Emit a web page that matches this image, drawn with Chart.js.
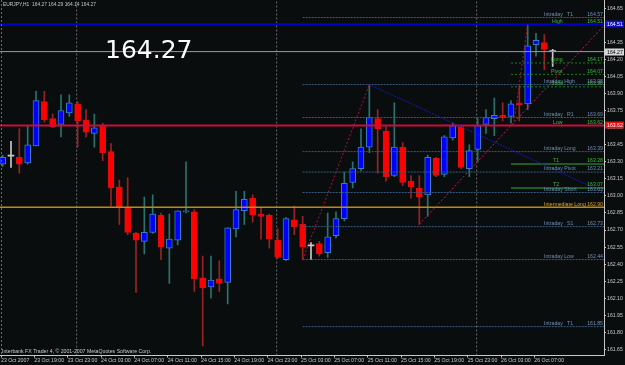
<!DOCTYPE html>
<html>
<head>
<meta charset="utf-8">
<script src="https://cdn.jsdelivr.net/npm/chart.js@4.4.0/dist/chart.umd.min.js"></script>
<style>
  html, body { margin: 0; padding: 0; background: #0a0d0e; }
  #wrap { width: 625px; height: 365px; position: relative; }
</style>
</head>
<body>
<div id="wrap"><canvas id="candles"></canvas></div>
<script>
// EURJPY H1, 23 Oct 2007 15:00 -> 26 Oct 2007 09:00 (one entry per hour)
const opens  = [163.28,163.35,163.34,163.29,163.44,163.83,163.68,163.63,163.73,163.81,163.67,163.55,163.62,163.39,163.08,162.89,162.67,
                162.60,162.68,162.83,162.54,162.61,162.86,162.86,162.28,162.20,162.27,162.24,162.71,162.87,162.98,162.84,162.83,162.61,
                162.44,162.79,162.75,162.56,162.58,162.50,162.65,162.80,163.12,163.24,163.43,163.68,163.57,163.18,163.43,163.13,163.07,
                163.01,163.33,163.19,163.51,163.61,163.24,163.41,163.63,163.68,163.71,163.70,163.82,163.81,164.33,164.35,164.27];
const highs  = [163.36,163.48,163.59,163.62,163.92,163.92,163.72,163.89,163.89,163.83,163.76,163.72,163.64,163.46,163.14,163.16,162.68,
                162.99,163.01,162.85,162.84,162.87,163.30,162.88,162.47,162.47,162.43,162.72,163.04,163.04,163.01,162.89,162.84,162.71,
                162.81,162.91,162.82,162.59,162.60,162.85,162.86,163.21,163.30,163.59,163.98,163.76,163.62,163.82,163.47,163.18,163.18,
                163.36,163.34,163.53,163.64,163.62,163.45,163.68,163.76,163.86,163.82,163.84,163.97,164.51,164.43,164.42,164.29];
const lows   = [163.26,163.25,163.20,163.28,163.44,163.65,163.60,163.52,163.70,163.43,163.52,163.43,163.31,162.91,162.75,162.66,162.15,
                162.49,162.67,162.44,162.23,162.57,162.85,162.16,161.68,162.10,162.16,162.05,162.64,162.75,162.77,162.62,162.54,162.45,
                162.43,162.66,162.44,162.44,162.47,162.46,162.63,162.78,163.07,163.22,163.38,163.20,163.13,163.17,163.09,162.98,162.75,
                162.82,163.17,163.17,163.49,163.24,163.17,163.30,163.55,163.53,163.66,163.64,163.66,163.76,164.23,164.11,164.14];
const closes = [163.34,163.35,163.28,163.45,163.84,163.67,163.61,163.75,163.82,163.66,163.56,163.60,163.38,163.07,162.90,162.68,162.61,
                162.68,162.84,162.55,162.62,162.87,162.87,162.27,162.19,162.26,162.23,162.72,162.88,162.97,162.83,162.82,162.62,162.46,
                162.80,162.73,162.55,162.56,162.49,162.64,162.80,163.11,163.24,163.43,163.69,163.59,163.17,163.43,163.12,163.08,162.99,
                163.34,163.18,163.52,163.62,163.25,163.40,163.62,163.69,163.71,163.69,163.81,163.80,164.32,164.37,164.29,164.27];

// time axis labels, one every 4 bars
const timeLabels = ['23 Oct 2007','23 Oct 19:00','23 Oct 23:00','24 Oct 03:00','24 Oct 07:00','24 Oct 11:00',
                    '24 Oct 15:00','24 Oct 19:00','24 Oct 23:00','25 Oct 03:00','25 Oct 07:00','25 Oct 11:00',
                    '25 Oct 15:00','25 Oct 19:00','25 Oct 23:00','26 Oct 03:00','26 Oct 07:00'];
const priceTicks = [164.65,164.50,164.35,164.20,164.05,163.90,163.75,163.60,163.45,163.30,163.15,163.00,
                    162.85,162.70,162.55,162.40,162.25,162.10,161.95,161.80,161.65];

// pivot / target levels drawn by the indicator
const levelNames  = ['Intraday   T1','High','Long','Pivot','Intraday High','Short','Intraday   R1','Low',
                     'Intraday Long','T1','Intraday Pivot','T2','Intraday Short','Intermediate Long',
                     'Intraday   S1','Intraday Low','Intraday   T1'];
const levelValues = [164.57,164.51,164.17,164.07,163.98,163.96,163.69,163.62,163.39,163.28,163.21,163.07,163.03,
                     162.90,162.73,162.44,161.85];
const levelKinds  = ['intraday','high','daily','daily','intraday','daily','intraday','low','intraday','target',
                     'intraday','target','intraday','intermediate','intraday','intraday','intraday'];
const intradayStart = 36;   // bar where the intraday levels begin
const dailyStart = 61;      // bar where the daily levels begin

// hand drawn trend lines [bar, price]
const trendStart = [[36, 162.44], [44, 163.98], [50, 162.75], [61.3, 163.62]];
const trendEnd   = [[44, 163.98], [72.16, 163.03], [72.16, 164.50], [63, 164.51]];
const trendKinds = ['red', 'blue', 'crimson', 'red'];

const daySeparators = [8.88, 32.88, 56.88];
const axisMarks = [164.51, 164.27, 163.62];

const xMin = -0.32, xMax = 72.16;
const yMin = 161.596, yMax = 164.724;

const axisCol = '#c8c8c8';
const smallFont = "5.2px 'Liberation Sans',Arial,sans-serif";
Chart.defaults.font.family = "'Liberation Sans',Arial,sans-serif";
Chart.defaults.font.size = 5.2;

const bars = opens.map((o, i) => i);
const last = opens.length - 1;
const dir = bars.map(i => Math.sign(closes[i] - opens[i]));
const wickCol = d => d > 0 ? '#2c7070' : d < 0 ? '#9a2222' : '#c8c8c8';
const bodyCol = d => d > 0 ? '#0000ff' : d < 0 ? '#ff0000' : '#c8c8c8';
const edgeCol = d => d > 0 ? '#3a7cc0' : d < 0 ? '#d81010' : '#c8c8c8';

const levelStyle = {
  intraday:     {line: '#3a5a7c', width: 1, dash: [2, 1], text: '#6f8fb4', start: intradayStart, tx: 544},
  high:         {line: '#0000c8', width: 2, dash: [],     text: '#3cb83c', start: xMin, tx: 552},
  low:          {line: '#c4103c', width: 2, dash: [],     text: '#3cb83c', start: xMin, tx: 553},
  daily:        {line: '#1f7a1f', width: 1, dash: [2, 2], text: '#3cb83c', start: dailyStart, tx: 551},
  target:       {line: '#1c5c1c', width: 2, dash: [],     text: '#3cb83c', start: dailyStart, tx: 553},
  intermediate: {line: '#c08a10', width: 1.5, dash: [],   text: '#e0a020', start: xMin, tx: 544}
};
const trendStyle = {
  red:     {line: '#b01030', dash: [2, 2]},
  crimson: {line: '#c0185a', dash: [2, 2]},
  blue:    {line: '#1818b8', dash: [2, 1]}
};

const datasets = [];
daySeparators.forEach(s => datasets.push({
  type: 'line', order: 5, data: [{x: s, y: yMin}, {x: s, y: yMax}],
  borderColor: '#6a6a6a', borderWidth: 1, borderDash: [2, 2], pointRadius: 0, fill: false
}));
datasets.push({
  type: 'bar', order: 4, grouped: false, barThickness: 1,
  data: bars.map(i => ({x: i, y: [lows[i], highs[i]]})),
  backgroundColor: bars.map(i => wickCol(dir[i]))
});
datasets.push({
  type: 'bar', order: 3, grouped: false, barThickness: 6, minBarLength: 1,
  data: bars.map(i => ({x: i, y: [opens[i], closes[i]]})),
  backgroundColor: bars.map(i => bodyCol(dir[i])),
  borderColor: bars.map(i => edgeCol(dir[i])),
  borderWidth: bars.map(i => dir[i] === 0 ? 0 : 1), borderSkipped: false
});
// bid line
datasets.push({
  type: 'line', order: 2, data: [{x: xMin, y: closes[last]}, {x: xMax, y: closes[last]}],
  borderColor: '#9a9a9a', borderWidth: 1, pointRadius: 0, fill: false
});
levelValues.forEach((v, k) => {
  const st = levelStyle[levelKinds[k]];
  datasets.push({
    type: 'line', order: 1, data: [{x: st.start, y: v}, {x: xMax, y: v}],
    borderColor: st.line, borderWidth: st.width, borderDash: st.dash, pointRadius: 0, fill: false
  });
});
trendStart.forEach((p, k) => {
  const st = trendStyle[trendKinds[k]];
  datasets.push({
    type: 'line', order: 0, data: [{x: p[0], y: p[1]}, {x: trendEnd[k][0], y: trendEnd[k][1]}],
    borderColor: st.line, borderWidth: 1, borderDash: st.dash, pointRadius: 0, fill: false
  });
});

const overlay = {
  id: 'overlay',
  beforeDraw(chart) {
    const {ctx, width, height} = chart;
    ctx.save();
    ctx.fillStyle = '#0a0d0e';
    ctx.fillRect(0, 0, width, height);
    ctx.restore();
  },
  afterDatasetsDraw(chart) {
    const {ctx, chartArea} = chart;
    const y = chart.scales.y;
    ctx.save();
    // left frame
    ctx.strokeStyle = '#6a6a6a';
    ctx.setLineDash([2, 2]);
    ctx.beginPath(); ctx.moveTo(chartArea.left + 1.5, chartArea.top); ctx.lineTo(chartArea.left + 1.5, chartArea.bottom); ctx.stroke();
    ctx.setLineDash([]);
    // level captions
    ctx.font = smallFont;
    ctx.textBaseline = 'bottom';
    levelValues.forEach((v, k) => {
      const st = levelStyle[levelKinds[k]];
      const py = y.getPixelForValue(v) - 0.5;
      ctx.fillStyle = st.text;
      ctx.textAlign = 'left';
      ctx.fillText(levelNames[k], st.tx, py);
      ctx.textAlign = 'right';
      ctx.fillText(v.toFixed(2), 603, py);
    });
    // symbol line and copyright
    ctx.fillStyle = axisCol;
    ctx.textAlign = 'left';
    ctx.textBaseline = 'middle';
    ctx.font = "4.9px 'Liberation Sans',Arial,sans-serif";
    ctx.fillText('EURJPY,H1  ' + [opens[last], highs[last], lows[last], closes[last]].map(v => v.toFixed(2)).join(' '), 3, 5);
    ctx.font = smallFont;
    ctx.fillText('Interbank FX Trader 4, \u00a9 2001-2007 MetaQuotes Software Corp.', 2, 351.5);
    // big bid
    ctx.fillStyle = '#ffffff';
    ctx.font = "25px 'DejaVu Sans'";
    ctx.textBaseline = 'alphabetic';
    ctx.fillText(closes[last].toFixed(2), 105, 58);
    ctx.restore();
  },
  afterDraw(chart) {
    const {ctx} = chart;
    const y = chart.scales.y;
    const fills = ['#1010c8', '#d8d8d8', '#e01010'];
    const inks = ['#ffffff', '#000000', '#ffffff'];
    ctx.save();
    ctx.font = smallFont;
    ctx.textBaseline = 'middle';
    ctx.textAlign = 'left';
    axisMarks.forEach((v, k) => {
      const py = Math.round(y.getPixelForValue(v));
      ctx.fillStyle = fills[k];
      ctx.fillRect(605, py - 3.5, 19, 7);
      ctx.fillStyle = inks[k];
      ctx.fillText(v.toFixed(2), 607, py + 0.5);
    });
    ctx.restore();
  }
};

new Chart(document.getElementById('candles'), {
  type: 'bar',
  data: {datasets},
  options: {
    responsive: true,
    maintainAspectRatio: false,
    animation: false,
    events: [],
    layout: {padding: 0},
    plugins: {legend: {display: false}, tooltip: {enabled: false}},
    scales: {
      x: {
        type: 'linear', min: xMin, max: xMax, offset: false,
        afterBuildTicks: s => { s.ticks = timeLabels.map((t, k) => ({value: k * 4 - 0.2})); },
        afterFit: s => { s.height = 9.5; s.paddingLeft = 0; s.paddingRight = 0; },
        ticks: {autoSkip: false, maxRotation: 0, align: 'start', padding: 0, color: axisCol,
                callback: (v, i) => timeLabels[i]},
        grid: {drawOnChartArea: false, offset: false, tickLength: 2, color: axisCol},
        border: {color: axisCol}
      },
      y: {
        position: 'right', min: yMin, max: yMax,
        afterBuildTicks: s => { s.ticks = priceTicks.map(v => ({value: v})); },
        afterFit: s => { s.width = 21; s.paddingTop = 0; s.paddingBottom = 0; },
        ticks: {autoSkip: false, padding: 1, color: axisCol, callback: v => v.toFixed(2)},
        grid: {drawOnChartArea: false, tickLength: 2, color: axisCol},
        border: {color: axisCol}
      }
    }
  },
  plugins: [overlay]
});
</script>
</body>
</html>
